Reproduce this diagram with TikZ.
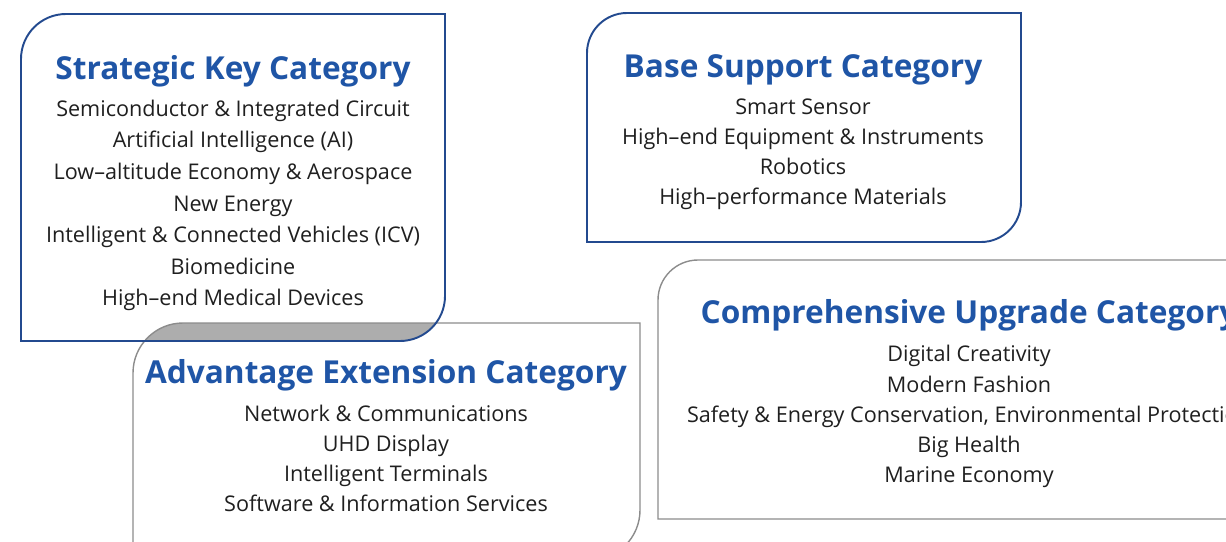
\documentclass[tikz,border=0pt]{standalone}
\usepackage{fontspec}
\setmainfont{Open Sans}
\usepackage{tikz}
\usetikzlibrary{positioning}

\definecolor{catblue}{HTML}{1F55A6}
\definecolor{lineblue}{HTML}{234A8F}
\definecolor{linegray}{HTML}{8C8C8C}
\definecolor{shadegray}{HTML}{ADADAD}

\begin{document}
\begin{tikzpicture}[x=0.02cm, y=0.02cm,
    bluebox/.style={draw=lineblue, line width=1.1pt},
    graybox/.style={draw=linegray, line width=0.8pt},
    cattitle/.style={font=\fontsize{18}{21}\selectfont\bfseries, text=catblue, inner sep=0pt},
    catitems/.style={font=\fontsize{12.3}{17.1}\selectfont, align=center, inner sep=0pt, text=black!88}
    ]
\useasboundingbox (0,0) rectangle (1226,-541);
\clip (0,0) rectangle (1226,-541);

% overlap of the two left boxes
\begin{scope}
    \clip (21,-341) -- (21,-59) arc[start angle=180, end angle=90, radius=45] -- (445,-14) -- (445,-296) arc[start angle=0, end angle=-90, radius=45] -- cycle;
    \fill[shadegray] (133,-560) -- (133,-373) arc[start angle=180, end angle=90, radius=50] -- (640,-323) -- (640,-510) arc[start angle=0, end angle=-90, radius=50] -- cycle;
\end{scope}

% boxes
\draw[graybox] (133,-560) -- (133,-373) arc[start angle=180, end angle=90, radius=50] -- (640,-323) -- (640,-510) arc[start angle=0, end angle=-90, radius=50] -- cycle;
\draw[graybox] (658,-519) -- (658,-300) arc[start angle=180, end angle=90, radius=40] -- (1240,-260) -- (1240,-519) -- cycle;
\draw[bluebox] (21,-341) -- (21,-59) arc[start angle=180, end angle=90, radius=45] -- (445,-14) -- (445,-296) arc[start angle=0, end angle=-90, radius=45] -- cycle;
\draw[bluebox] (587,-242) -- (587,-53) arc[start angle=180, end angle=90, radius=40] -- (1021,-13) -- (1021,-202) arc[start angle=0, end angle=-90, radius=40] -- cycle;

% strategic key
\node[cattitle] (strategic) at (233,-71) {Strategic Key Category};
\node[catitems, font=\fontsize{12.3}{18}\selectfont, below=7pt of strategic] (strategiclist) {Semiconductor \& Integrated Circuit\\
    Artificial Intelligence (AI)\\
    Low--altitude Economy \& Aerospace\\
    New Energy\\
    Intelligent \& Connected Vehicles (ICV)\\
    Biomedicine\\
    High--end Medical Devices};

% base support
\node[cattitle] (base) at (803,-70) {Base Support Category};
\node[catitems, below=7.5pt of base] (baselist) {Smart Sensor\\
    High--end Equipment \& Instruments\\
    Robotics\\
    High--performance Materials};

% advantage extension
\node[cattitle] (advantage) at (386,-375) {Advantage Extension Category};
\node[catitems, below=7.5pt of advantage] (advantagelist) {Network \& Communications\\
    UHD Display\\
    Intelligent Terminals\\
    Software \& Information Services};

% comprehensive upgrade
\node[cattitle] (upgrade) at (969,-315) {Comprehensive Upgrade Category};
\node[catitems, below=8pt of upgrade] (upgradelist) {Digital Creativity\\
    Modern Fashion\\
    Safety \& Energy Conservation, Environmental Protection\\
    Big Health\\
    Marine Economy};

\end{tikzpicture}
\end{document}
